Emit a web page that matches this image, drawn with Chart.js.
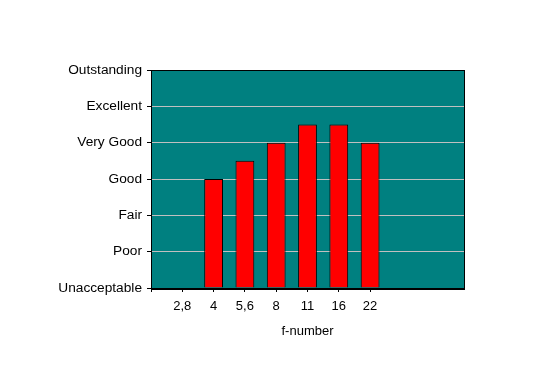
<!DOCTYPE html>
<html>
<head>
<meta charset="utf-8">
<script src="https://cdn.jsdelivr.net/npm/chart.js@4/dist/chart.umd.min.js"></script>
<style>
html,body{margin:0;padding:0;background:#fff;}
#wrap{width:546px;height:385px;position:relative;}
</style>
</head>
<body>
<div id="wrap"><canvas id="c" width="546" height="385"></canvas></div>
<script>
const categories = ['', '2,8', '4', '5,6', '8', '11', '16', '22', '', '', ''];
const ratings = [null, null, 3, 3.5, 4, 4.5, 4.5, 4, null, null, null];
const ratingLabels = ['Unacceptable', 'Poor', 'Fair', 'Good', 'Very Good', 'Excellent', 'Outstanding'];
const lastTickIndex = 7;

const plotBg = {
  id: 'plotBg',
  beforeDraw(chart) {
    const a = chart.chartArea, ctx = chart.ctx;
    ctx.save();
    ctx.fillStyle = '#008080';
    ctx.fillRect(a.left, a.top, a.right - a.left, a.bottom - a.top);
    ctx.restore();
  },
  afterDraw(chart) {
    const a = chart.chartArea, ctx = chart.ctx;
    ctx.save();
    ctx.strokeStyle = '#000';
    ctx.lineWidth = 1;
    ctx.strokeRect(Math.round(a.left) + 0.5, Math.round(a.top) + 0.5, Math.round(a.right - a.left), Math.round(a.bottom - a.top));
    ctx.beginPath();
    ctx.moveTo(Math.round(a.left), Math.round(a.bottom) + 1.5);
    ctx.lineTo(Math.round(a.right) + 1, Math.round(a.bottom) + 1.5);
    ctx.stroke();
    ctx.restore();
  }
};

Chart.defaults.font.family = '"Liberation Sans", Arial, sans-serif';
Chart.defaults.font.size = 13;
Chart.defaults.color = '#000';

new Chart(document.getElementById('c'), {
  type: 'bar',
  data: {
    labels: categories,
    datasets: [{
      data: ratings,
      backgroundColor: '#ff0000',
      borderColor: '#000',
      borderWidth: 1,
      barPercentage: 0.6,
      categoryPercentage: 1
    }]
  },
  options: {
    responsive: false,
    animation: false,
    devicePixelRatio: 1,
    layout: { padding: { left: 0, top: 70, right: 82, bottom: 42 } },
    plugins: { legend: { display: false }, tooltip: { enabled: false } },
    scales: {
      x: {
        offset: false,
        grid: {
          offset: false,
          drawOnChartArea: false,
          tickLength: 4,
          tickColor: (ctx) => (ctx.index <= lastTickIndex ? '#000' : 'rgba(0,0,0,0)')
        },
        border: { display: false },
        ticks: { autoSkip: false, maxRotation: 0, padding: 7 },
        title: { display: true, text: 'f-number', padding: { top: 4, bottom: 4 } },
        afterFit(scale) { scale.height = 55; }
      },
      y: {
        min: 0, max: 6,
        grid: { color: '#c0c0c0', tickColor: '#000', tickLength: 4 },
        border: { display: false },
        ticks: { stepSize: 1, padding: 5, font: { size: 13.7 }, callback: (v) => ratingLabels[v] },
        afterFit(scale) { scale.width = 151; }
      }
    }
  },
  plugins: [plotBg]
});
</script>
</body>
</html>
